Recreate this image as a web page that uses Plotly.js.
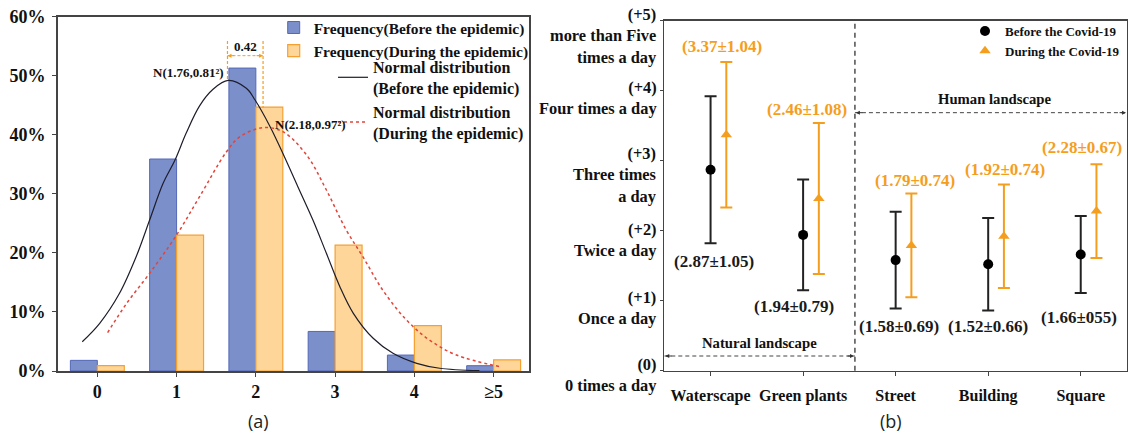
<!DOCTYPE html>
<html><head><meta charset="utf-8">
<script src="https://cdn.plot.ly/plotly-3.0.1.min.js"></script>
<style>html,body{margin:0;padding:0;background:#fff}#chart{width:1128px;height:435px}</style>
</head><body><div id="chart"></div>
<script>
// ---------- Panel (a) data ----------
const freqCats = ['0', '1', '2', '3', '4', '≥5'];
const freqBefore = [1.8, 35.9, 51.3, 6.7, 2.7, 0.9];
const freqDuring = [0.9, 23.0, 44.7, 21.3, 7.7, 1.9];
const yTickVals = [0, 10, 20, 30, 40, 50, 60];
const yTickText = ['0%', '10%', '20%', '30%', '40%', '50%', '60%'];
// normal curves (x in category units, y in %)
const normBeforeX = [-0.19, 0.03, 0.28, 0.49, 0.66, 0.83, 0.98, 1.12, 1.29, 1.46, 1.65, 1.88, 1.99, 2.18, 2.34, 2.53, 2.72, 2.89, 3.06, 3.23, 3.48, 3.73, 4.03, 4.32, 4.82];
const normBeforeY = [4.96, 8.08, 13.16, 19.36, 25.57, 31.79, 35.73, 40.25, 44.9, 47.7, 49.2, 47.87, 45.89, 41.37, 36.87, 31.21, 25.57, 19.93, 14.28, 9.77, 5.54, 3.0, 1.3, 0.46, 0.05];
const normDuringX = [0.13, 0.37, 0.66, 1.0, 1.29, 1.63, 1.80, 2.09, 2.34, 2.64, 2.89, 3.14, 3.35, 3.60, 3.90, 4.19, 4.53, 5.08];
const normDuringY = [6.49, 11.46, 16.55, 23.03, 29.52, 37.14, 39.68, 41.2, 40.53, 36.58, 30.65, 23.88, 19.36, 13.72, 8.64, 5.25, 2.71, 0.73];

// ---------- Panel (b) data ----------
const landscapes = ['Waterscape', 'Green plants', 'Street', 'Building', 'Square'];
const meanBefore = [2.87, 1.94, 1.58, 1.52, 1.66];
const sdBefore = [1.05, 0.79, 0.69, 0.66, 0.55];
const meanDuring = [3.37, 2.46, 1.79, 1.92, 2.28];
const sdDuring = [1.04, 1.08, 0.74, 0.74, 0.67];
const labelBefore = ['(2.87±1.05)', '(1.94±0.79)', '(1.58±0.69)', '(1.52±0.66)', '(1.66±055)'];
const labelDuring = ['(3.37±1.04)', '(2.46±1.08)', '(1.79±0.74)', '(1.92±0.74)', '(2.28±0.67)'];
const freqLevels = [0, 1, 2, 3, 4, 5];
const levelCodes = ['(0)', '(+1)', '(+2)', '(+3)', '(+4)', '(+5)'];
const levelNames = ['0 times a day', 'Once a day', 'Twice a day', 'Three times<br>a day', 'Four times a day', 'more than Five<br>times a day'];

// ---------- styling / positions ----------
const W = 1128, H = 435;
const px = v => v / W, py = v => 1 - v / H;
const SERIF = 'Liberation Serif, Times New Roman, serif';
const ORANGE = '#F59E1E';
const BLUE = '#7B8FCB';
const bf = (size, color) => ({family: SERIF, size: size, color: color || '#111', weight: 700});

const idx = freqCats.map((_, i) => i);
const lidx = landscapes.map((_, i) => i);
const DUR_OFF = 0.17;

const traces = [
  {type: 'bar', name: 'Frequency(Before the epidemic)', x: idx, y: freqBefore, xaxis: 'x', yaxis: 'y',
   marker: {color: BLUE, line: {color: '#5468B8', width: 1}}, legend: 'legend'},
  {type: 'bar', name: 'Frequency(During the epidemic)', x: idx, y: freqDuring, xaxis: 'x', yaxis: 'y',
   marker: {color: '#FFD699', line: {color: '#F5A030', width: 1.2}}, legend: 'legend'},
  {type: 'scatter', mode: 'lines', name: 'Normal distribution<br>(Before the epidemic)', x: normBeforeX, y: normBeforeY,
   xaxis: 'x', yaxis: 'y', line: {color: '#1d1d2b', width: 1.2, shape: 'spline', smoothing: 1}, legend: 'legend2'},
  {type: 'scatter', mode: 'lines', name: 'Normal distribution<br>(During the epidemic)', x: normDuringX, y: normDuringY,
   xaxis: 'x', yaxis: 'y', line: {color: '#E2443A', width: 1.5, dash: 'dot', shape: 'spline', smoothing: 1}, legend: 'legend2'},
  {type: 'scatter', mode: 'markers', name: 'Before the Covid-19', x: lidx, y: meanBefore, xaxis: 'x2', yaxis: 'y2',
   marker: {symbol: 'circle', size: 10, color: '#000'},
   error_y: {type: 'data', array: sdBefore, visible: true, color: '#222', thickness: 2, width: 6}, legend: 'legend3'},
  {type: 'scatter', mode: 'markers', name: 'During the Covid-19', x: lidx.map(i => i + DUR_OFF), y: meanDuring, xaxis: 'x2', yaxis: 'y2',
   marker: {symbol: 'triangle-up', size: 10, color: ORANGE},
   error_y: {type: 'data', array: sdDuring, visible: true, color: ORANGE, thickness: 2, width: 6}, legend: 'legend3'}
];

const annotations = [];
// panel (a) annotations
annotations.push({xref: 'x', yref: 'y', x: 1.866, y: 54.9, text: '0.42', showarrow: false, font: bf(13)});
annotations.push({xref: 'x', yref: 'y', x: 1.629, y: 50.5, xanchor: 'right', text: 'N(1.76,0.81²)', showarrow: false, font: bf(13)});
annotations.push({xref: 'x', yref: 'y', x: 2.217, y: 41.8, xanchor: 'left', text: 'N(2.18,0.97²)', showarrow: false, font: bf(13)});
annotations.push({xref: 'x', yref: 'y', x: 1.642, y: 53.4, ax: 8, ay: 0, text: '', showarrow: true, arrowhead: 2, arrowsize: 0.8, arrowwidth: 1, arrowcolor: ORANGE});
annotations.push({xref: 'x', yref: 'y', x: 2.091, y: 53.4, ax: -8, ay: 0, text: '', showarrow: true, arrowhead: 2, arrowsize: 0.8, arrowwidth: 1, arrowcolor: ORANGE});
annotations.push({xref: 'paper', yref: 'paper', x: px(258), y: py(421), xanchor: 'center', yanchor: 'middle', text: '(a)', showarrow: false,
  font: {family: 'Open Sans, Noto Sans, sans-serif', size: 18, color: '#222'}});
annotations.push({xref: 'paper', yref: 'paper', x: px(891), y: py(421), xanchor: 'center', yanchor: 'middle', text: '(b)', showarrow: false,
  font: {family: 'Open Sans, Noto Sans, sans-serif', size: 18, color: '#222'}});

// panel (b) value labels
const befDx = [3, -9.5, 3.3, 0, -1.7], befDy = [-18, -16.5, -17.6, -15.5, -24];
const durDx = [-4.6, -11.6, 3.8, 1.3, -14.6], durDy = [15.3, 12.9, 13.6, 15.2, 16.5];
lidx.forEach(i => {
  annotations.push({xref: 'x2', yref: 'y2', x: i, y: meanBefore[i] - sdBefore[i], xshift: befDx[i], yshift: befDy[i],
    xanchor: 'center', yanchor: 'middle', text: labelBefore[i], showarrow: false, font: bf(17, '#1a1a1a')});
  annotations.push({xref: 'x2', yref: 'y2', x: i + DUR_OFF, y: meanDuring[i] + sdDuring[i], xshift: durDx[i], yshift: durDy[i],
    xanchor: 'center', yanchor: 'middle', text: labelDuring[i], showarrow: false, font: bf(17, ORANGE)});
});
// panel (b) level labels: code above the tick, description below (one text block per level)
const codeRise = [5.7, 3.4, 0.7, 7.4, 3.4, 5.7];
freqLevels.forEach((lv, i) => {
  annotations.push({xref: 'paper', yref: 'y2', x: px(659), y: lv, xanchor: 'right', yanchor: 'top', align: 'right',
    yshift: codeRise[i] + 11.7, text: levelCodes[i] + '<br>' + levelNames[i], showarrow: false, font: bf(16.4)});
});
// landscape group labels and arrows
const DIV = 1.56;
annotations.push({xref: 'x2', yref: 'y2', x: 3.074, y: 3.877, text: 'Human landscape', showarrow: false, font: bf(14.7)});
annotations.push({xref: 'x2', yref: 'y2', x: 0.524, y: 0.391, text: 'Natural landscape', showarrow: false, font: bf(14.7)});
const arrowSpec = (x, y, ax) => ({xref: 'x2', yref: 'y2', x: x, y: y, ax: ax, ay: 0, text: '', showarrow: true,
  arrowhead: 2, arrowsize: 0.8, arrowwidth: 1, arrowcolor: '#333'});
annotations.push(arrowSpec(DIV + 0.01, 3.686, 8));
annotations.push(arrowSpec(4.49, 3.686, -8));
annotations.push(arrowSpec(-0.49, 0.21, 8));
annotations.push(arrowSpec(DIV - 0.01, 0.21, -8));

const shapes = [
  // orange dashed guide lines (means)
  {type: 'line', xref: 'x', yref: 'y', x0: 1.642, x1: 1.642, y0: 55.9, y1: 49.3, line: {color: ORANGE, width: 1.2, dash: '3px,2px'}},
  {type: 'line', xref: 'x', yref: 'y', x0: 2.091, x1: 2.091, y0: 55.9, y1: 44.6, line: {color: ORANGE, width: 1.2, dash: '3px,2px'}},
  {type: 'line', xref: 'x', yref: 'y', x0: 1.642, x1: 2.091, y0: 53.4, y1: 53.4, line: {color: ORANGE, width: 1, dash: '3px,2px'}},
  // divider and landscape arrows
  {type: 'line', xref: 'x2', yref: 'y2 domain', x0: DIV, x1: DIV, y0: 0, y1: 1, line: {color: '#333', width: 1.3, dash: '5px,4px'}},
  {type: 'line', xref: 'x2', yref: 'y2', x0: DIV, x1: 4.5, y0: 3.686, y1: 3.686, line: {color: '#444', width: 1, dash: '4px,3px'}},
  {type: 'line', xref: 'x2', yref: 'y2', x0: -0.5, x1: DIV, y0: 0.21, y1: 0.21, line: {color: '#444', width: 1, dash: '4px,3px'}}
];

const axisLine = {showline: true, linecolor: '#444', linewidth: 1.6, mirror: true, zeroline: false, showgrid: false};

const layout = {
  width: W, height: H,
  margin: {l: 0, r: 0, t: 0, b: 0, pad: 0},
  paper_bgcolor: '#fff', plot_bgcolor: '#fff',
  barmode: 'group', bargap: 0.32, bargroupgap: 0,
  xaxis: Object.assign({}, axisLine, {domain: [px(57.7), px(529.3)], range: [-0.5, 5.45],
    tickmode: 'array', tickvals: idx, ticktext: freqCats, ticks: 'outside', ticklen: 4, tickcolor: '#444',
    tickfont: bf(18), anchor: 'y'}),
  yaxis: Object.assign({}, axisLine, {domain: [py(371), py(16.7)], range: [0, 60],
    tickmode: 'array', tickvals: yTickVals, ticktext: yTickText, ticks: 'outside', ticklen: 4, tickcolor: '#444',
    tickfont: bf(18), anchor: 'x', ticklabelstandoff: 3}),
  xaxis2: Object.assign({}, axisLine, {domain: [px(664.3), px(1127)], range: [-0.5, 4.5],
    tickmode: 'array', tickvals: lidx, ticktext: landscapes, ticks: 'outside', ticklen: 4, tickcolor: '#444',
    tickfont: bf(16), anchor: 'y2', ticklabelstandoff: 5}),
  yaxis2: Object.assign({}, axisLine, {domain: [py(370.7), py(20.7)], range: [0, 5],
    tickmode: 'array', tickvals: freqLevels, ticks: 'outside', ticklen: 3, tickcolor: '#444',
    showticklabels: false, anchor: 'x2'}),
  showlegend: true,
  legend: {x: px(273.7), y: py(11), xanchor: 'left', yanchor: 'top', bgcolor: 'rgba(0,0,0,0)', font: bf(15.4), traceorder: 'normal'},
  legend2: {x: px(333), y: py(50), xanchor: 'left', yanchor: 'top', bgcolor: 'rgba(0,0,0,0)', font: bf(16), traceorder: 'normal'},
  legend3: {x: px(965), y: py(16), xanchor: 'left', yanchor: 'top', bgcolor: 'rgba(0,0,0,0)', font: bf(13), traceorder: 'normal'},
  annotations: annotations,
  shapes: shapes
};

Plotly.newPlot('chart', traces, layout, {displayModeBar: false, staticPlot: true});
</script></body></html>
